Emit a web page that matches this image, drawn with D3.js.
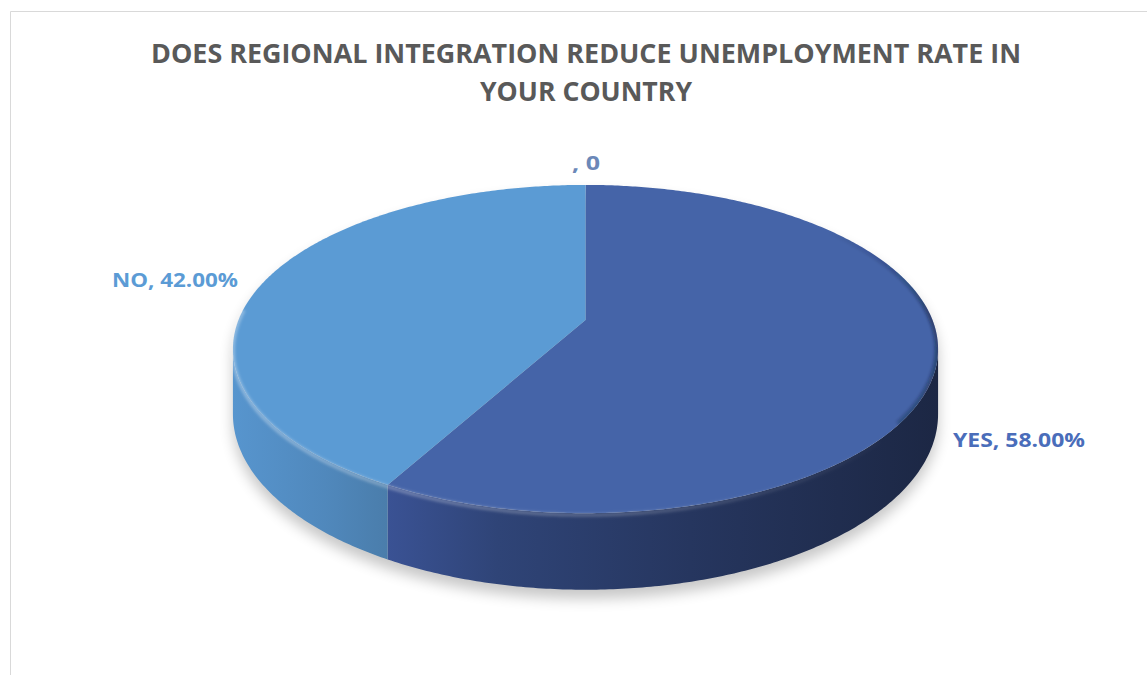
<!DOCTYPE html>
<html>
<head>
<meta charset="utf-8">
<script src="https://cdn.jsdelivr.net/npm/d3@7/dist/d3.min.js"></script>
<style>
  html, body { margin: 0; padding: 0; background: #fff; }
  svg { display: block; }
</style>
</head>
<body>
<svg id="chart" width="1147" height="675"></svg>
<script>
// Survey answers
const categories = ["YES", "NO", ""];
const values = [58, 42, 0];
const labels = ["YES, 58.00%", "NO, 42.00%", ", 0"];
const titleLines = ["DOES REGIONAL INTEGRATION REDUCE UNEMPLOYMENT RATE IN", "YOUR COUNTRY"];

const topColors = ["#4564A8", "#5B9BD4", "#A5A5A5"];
const labelColors = ["#4A6DBA", "#5B9BD5", "#6B88B8"];

const svg = d3.select("#chart");
const defs = svg.append("defs");

// chart frame
svg.append("path")
  .attr("d", "M10.5,675 L10.5,11.5 L1147,11.5")
  .attr("fill", "none").attr("stroke", "#D9D9D9").attr("stroke-width", 1);

// title
const title = svg.append("g").attr("font-family", "'Open Sans', sans-serif")
  .attr("font-weight", 700).attr("fill", "#595959").attr("text-anchor", "middle");
const titleY = [63, 101];
const titleW = [870, 212];
titleLines.forEach((t, i) => {
  title.append("text").attr("x", 586).attr("y", titleY[i])
    .attr("font-size", 27).attr("textLength", titleW[i])
    .attr("lengthAdjust", "spacingAndGlyphs").text(t);
});

// oblique perspective projection of the pie disk
const CX = 585.5, CY = 320, A = 347, B = 159, K = 0.177, DEPTH = 63;
function proj(theta, r = 1, drop = 0) {
  const u = r * Math.sin(theta), v = -r * Math.cos(theta);
  const s = 1 / (1 - K * v);
  return [CX + A * u * s, CY + B * v * s + drop * s];
}
function samples(a0, a1) {
  const n = Math.max(2, Math.ceil(Math.abs(a1 - a0) / 0.01));
  return d3.range(n + 1).map(i => a0 + (a1 - a0) * i / n);
}
const line = d3.line();

const pie = d3.pie().sort(null).value(d => d.value).startAngle(0).endAngle(2 * Math.PI);
const arcs = pie(categories.map((c, i) => ({ cat: c, value: values[i], i })));

const thetaR = Math.acos(-K);             // right silhouette
const thetaL = 2 * Math.PI - Math.acos(-K); // left silhouette

// soft drop shadow under the disk
const shF = defs.append("filter").attr("id", "shadow").attr("x", "-20%").attr("y", "-20%")
  .attr("width", "140%").attr("height", "140%");
shF.append("feGaussianBlur").attr("stdDeviation", 7);
const outline = samples(thetaL - 2 * Math.PI, thetaR).map(t => proj(t))
  .concat(samples(thetaR, thetaL).map(t => proj(t, 1, DEPTH)));
svg.append("path").attr("d", line(outline) + "Z")
  .attr("transform", "translate(0,9)")
  .attr("fill", "#000").attr("opacity", 0.22).attr("filter", "url(#shadow)");

// side wall gradients
const sideGrad = [
  { id: "sideYes", stops: [[0, "#3A5294"], [0.2, "#2F4477"], [0.55, "#26365F"], [1, "#1C2744"]] },
  { id: "sideNo", stops: [[0, "#5795CE"], [0.6, "#5088BC"], [1, "#4A7DAB"]] }
];
sideGrad.forEach(g => {
  const lg = defs.append("linearGradient").attr("id", g.id).attr("gradientUnits", "objectBoundingBox")
    .attr("x1", 0).attr("x2", 1).attr("y1", 0).attr("y2", 0);
  g.stops.forEach(s => lg.append("stop").attr("offset", s[0]).attr("stop-color", s[1]));
});
const sideFill = ["url(#sideYes)", "url(#sideNo)", "#888"];

// side walls
arcs.forEach(a => {
  const a0 = Math.max(a.startAngle, thetaR), a1 = Math.min(a.endAngle, thetaL);
  if (a1 <= a0) return;
  const pts = samples(a0, a1).map(t => proj(t))
    .concat(samples(a1, a0).map(t => proj(t, 1, DEPTH)));
  svg.append("path").attr("d", line(pts) + "Z").attr("fill", sideFill[a.data.i]);
});

// top faces
const topG = svg.append("g");
arcs.forEach(a => {
  if (a.endAngle - a.startAngle <= 0) return;
  const pts = [proj(0, 0)].concat(samples(a.startAngle, a.endAngle).map(t => proj(t)));
  topG.append("path").attr("d", line(pts) + "Z").attr("fill", topColors[a.data.i]);
});

// bevel: light rim on the front-left, dark rim on the right
const blur1 = defs.append("filter").attr("id", "rimBlur");
blur1.append("feGaussianBlur").attr("stdDeviation", 1.4);
const clip = defs.append("clipPath").attr("id", "topClip");
clip.append("path").attr("d", line(samples(0, 2 * Math.PI).map(t => proj(t))) + "Z");

const hiGrad = defs.append("linearGradient").attr("id", "hiGrad").attr("gradientUnits", "userSpaceOnUse")
  .attr("x1", 233).attr("x2", 900).attr("y1", 0).attr("y2", 0);
hiGrad.append("stop").attr("offset", 0).attr("stop-color", "#fff").attr("stop-opacity", 0.35);
hiGrad.append("stop").attr("offset", 0.6).attr("stop-color", "#fff").attr("stop-opacity", 0.2);
hiGrad.append("stop").attr("offset", 1).attr("stop-color", "#fff").attr("stop-opacity", 0);

svg.append("path").attr("d", line(samples(2.3, thetaL + 0.25).map(t => proj(t, 1, 1.5))))
  .attr("fill", "none").attr("stroke", "url(#hiGrad)").attr("stroke-width", 3.5)
  .attr("filter", "url(#rimBlur)");

const darkGrad = defs.append("linearGradient").attr("id", "darkGrad").attr("gradientUnits", "userSpaceOnUse")
  .attr("x1", 0).attr("x2", 0).attr("y1", 230).attr("y2", 420);
darkGrad.append("stop").attr("offset", 0).attr("stop-color", "#10182c").attr("stop-opacity", 0);
darkGrad.append("stop").attr("offset", 0.45).attr("stop-color", "#10182c").attr("stop-opacity", 0.45);
darkGrad.append("stop").attr("offset", 1).attr("stop-color", "#10182c").attr("stop-opacity", 0.3);

svg.append("g").attr("clip-path", "url(#topClip)")
  .append("path").attr("d", line(samples(0.9, 2.2).map(t => proj(t))))
  .attr("fill", "none").attr("stroke", "url(#darkGrad)")
  .attr("stroke-width", 7).attr("filter", "url(#rimBlur)");

// data labels
const labelPos = {
  "YES": { x: 1019, y: 447, w: 132 },
  "NO": { x: 175, y: 287, w: 126 },
  "": { x: 586, y: 170, w: 28 }
};
const lab = svg.append("g").attr("font-family", "'Open Sans', sans-serif")
  .attr("font-weight", 700).attr("font-size", 20).attr("text-anchor", "middle");
arcs.forEach(a => {
  const p = labelPos[a.data.cat];
  lab.append("text").attr("x", p.x).attr("y", p.y)
    .attr("fill", labelColors[a.data.i])
    .attr("textLength", p.w).attr("lengthAdjust", "spacingAndGlyphs")
    .text(labels[a.data.i]);
});
</script>
</body>
</html>
